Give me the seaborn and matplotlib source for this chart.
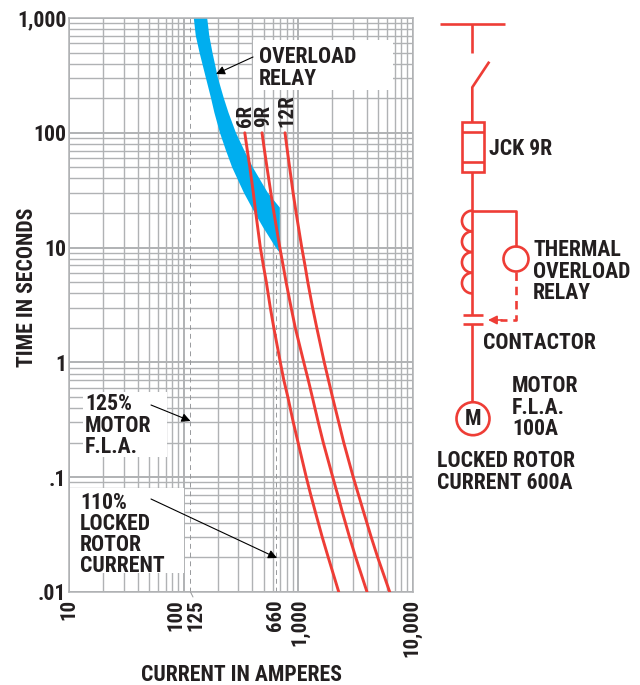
import matplotlib
matplotlib.use("Agg")
import matplotlib.pyplot as plt
import matplotlib.ticker as mticker
from matplotlib.patches import Arc, Circle, Rectangle
import pandas as pd
import seaborn as sns

# time axis shared by the three fuse curves (seconds)
fuse_times = [100, 70, 50, 30, 20, 10, 7, 5, 3, 2, 1, .7, .5, .3, .2, .1, .07, .05, .03, .02, .01]
fuse_6r = [343, 361, 380, 407, 428, 469, 498, 529, 573, 615, 701, 752, 815, 910, 1002,
           1181, 1293, 1416, 1629, 1838, 2270]
fuse_9r = [485, 510, 536, 579, 617, 694, 741, 787, 871, 947, 1124, 1230, 1333, 1504, 1663,
           2012, 2225, 2435, 2820, 3194, 4008]
fuse_12r = [770, 807, 845, 906, 964, 1079, 1151, 1218, 1341, 1459, 1696, 1846, 2000, 2270, 2510,
            3038, 3379, 3736, 4361, 4970, 6325]

# overload relay band, lower and upper edge
relay_low_t = [1000, 700, 500, 300, 200, 150, 100, 70, 50, 30, 20, 15, 10, 9]
relay_low_a = [123, 128, 138, 157, 174, 186, 208, 235, 266, 337, 420, 496, 640, 694]
relay_high_t = [1000, 700, 500, 300, 200, 150, 100, 70, 50, 30, 22.3]
relay_high_a = [161, 168, 179, 200, 225, 247, 287, 340, 403, 545, 694]

x_ticks = [10, 100, 115, 640, 1000, 10000]
x_labels = ["10", "100", "125", "660", "1,000", "10,000"]
x_nudge = [0, -8, 5, 0, 2, -1]
y_ticks = [1000, 100, 10, 1, .1, .01]
y_labels = ["1,000", "100", "10", "1", ".1", ".01"]

RED = "#ee3d36"
BLUE = "#00aeef"
GRID = "#b0b2b4"
DASH = "#97999c"
INK = "#231f20"
W, H = 640, 685

sns.set_style("white")
plt.rcParams["font.family"] = ["Roboto Condensed", "Archivo Narrow", "Barlow Condensed",
                               "Saira Condensed", "Liberation Sans"]
plt.rcParams["font.weight"] = "bold"

fig = plt.figure(figsize=(W / 100, H / 100), dpi=100)
ax = fig.add_axes([69 / W, 1 - 592 / H, 343.5 / W, 574 / H])
ax.set_xscale("log")
ax.set_yscale("log")

rows = []
for name, amps in [("6R", fuse_6r), ("9R", fuse_9r), ("12R", fuse_12r)]:
    rows.append(pd.DataFrame({"amps": amps, "time": fuse_times, "fuse": name}))
fuses = pd.concat(rows)

ax.fill(relay_low_a + relay_high_a[::-1], relay_low_t + relay_high_t[::-1],
        color=BLUE, lw=0, zorder=2)
sns.lineplot(data=fuses, x="amps", y="time", hue="fuse", sort=False, estimator=None,
             palette=[RED, RED, RED], linewidth=2.1, legend=False, ax=ax, zorder=3)

ax.set_xlim(10, 10000)
ax.set_ylim(.01, 1000)
ax.set_xlabel("")
ax.set_ylabel("")

ax.xaxis.set_major_locator(mticker.LogLocator(base=10, numticks=10))
ax.xaxis.set_minor_locator(mticker.LogLocator(base=10, subs=range(2, 10), numticks=10))
ax.yaxis.set_major_locator(mticker.FixedLocator(y_ticks))
ax.yaxis.set_minor_locator(mticker.LogLocator(base=10, subs=range(2, 10), numticks=10))
ax.yaxis.set_major_formatter(mticker.FixedFormatter(y_labels))
ax.xaxis.set_major_formatter(mticker.NullFormatter())
ax.xaxis.set_minor_formatter(mticker.NullFormatter())
ax.yaxis.set_minor_formatter(mticker.NullFormatter())
ax.grid(which="major", color=GRID, lw=1.4)
ax.grid(which="minor", color=GRID, lw=1.0)
ax.set_axisbelow(True)
ax.tick_params(which="both", length=0)
ax.tick_params(axis="y", which="major", labelsize=15.7, labelcolor=INK, pad=2)
for side in ax.spines.values():
    side.set_color(GRID)
    side.set_linewidth(1.1)

for val, lab, nudge in zip(x_ticks, x_labels, x_nudge):
    ax.annotate(lab, (val, 0), xycoords=("data", "axes fraction"),
                xytext=(nudge * 0.72, -5), textcoords="offset points", rotation=90,
                ha="center", va="top", fontsize=15, color=INK)

ax.axvline(115, color=DASH, lw=0.7, ls=(0, (5, 4)), zorder=1.5)
ax.plot([640, 640], [.01, 9], color=DASH, lw=0.7, ls=(0, (5, 4)), zorder=1.5)

# everything else goes on a full figure overlay in pixel coordinates
ov = fig.add_axes([0, 0, 1, 1])
ov.set_xlim(0, W)
ov.set_ylim(H, 0)
ov.axis("off")
ov.patch.set_alpha(0)

for x0, y0, x1, y1 in [(253, 40, 393, 90), (83, 392, 167, 457), (70, 488, 184, 573)]:
    ov.add_patch(Rectangle((x0, y0), x1 - x0, y1 - y0, color="white", lw=0))
ov.plot([190.5, 193], [592, 597], color=DASH, lw=0.7)


def label(x, y, lines, step=21.5, size=15.7):
    for i, line in enumerate(lines):
        ov.text(x, y + i * step, line, ha="left", va="center", fontsize=size, color=INK)


label(259, 57, ["OVERLOAD", "RELAY"])
label(85, 404, ["125%", "MOTOR", "F.L.A."])
label(80, 503, ["110%", "LOCKED", "ROTOR", "CURRENT"], step=21)
label(489, 149, ["JCK 9R"])
label(533, 250, ["THERMAL", "OVERLOAD", "RELAY"])
label(483, 343, ["CONTACTOR"])
label(512, 386, ["MOTOR", "F.L.A.", "100A"])
label(437, 461, ["LOCKED ROTOR", "CURRENT 600A"])
ov.text(473, 419, "M", ha="center", va="center", fontsize=15.7, color=INK)

for x, y, txt in [(245, 127, "6R"), (264, 127, "9R"), (287, 127, "12R")]:
    ov.text(x, y, txt, rotation=90, ha="center", va="bottom", fontsize=15, color=INK)

ov.text(27, 287, "TIME IN SECONDS", rotation=90, ha="center", va="center", fontsize=15.7, color=INK)
ov.text(241, 675, "CURRENT IN AMPERES", ha="center", va="center", fontsize=15.7, color=INK)

for start, end in [((253, 57), (216, 74)), ((151, 405), (190.5, 421)), ((151, 499), (277, 558))]:
    ov.annotate("", xy=end, xytext=start,
                arrowprops=dict(arrowstyle="-|>", color="black", lw=0.8, shrinkA=0, shrinkB=0,
                                mutation_scale=13))

# one line diagram
wire = dict(color=RED, lw=1.9, solid_capstyle="butt")
ov.plot([439.5, 505], [24, 24], **wire)
ov.plot([472.3, 472.3], [24, 53], **wire)
ov.plot([489.3, 472.3, 472.3], [61.7, 87.3, 122], **wire)
ov.add_patch(Rectangle((462.3, 122.3), 21.7, 49.4, fill=False, ec=RED, lw=1.9))
ov.plot([462.3, 484], [132.3, 132.3], **wire)
ov.plot([462.3, 484], [161.7, 161.7], **wire)
ov.plot([472.3, 472.3], [171.7, 315], **wire)
for k in range(4):
    ov.add_patch(Arc((472.3, 221 + k * 20.7), 20.7, 20.7, theta1=90, theta2=270, ec=RED, lw=1.9))
ov.plot([472.3, 516, 516], [210.7, 210.7, 246.7], **wire)
ov.add_patch(Circle((516, 259), 12.5, fill=False, ec=RED, lw=1.9))
ov.plot([516, 516, 500], [272, 320, 320], color=RED, lw=1.9, ls=(0, (3.2, 2.2)))
ov.annotate("", xy=(488, 320), xytext=(502, 320),
            arrowprops=dict(arrowstyle="-|>", color=RED, lw=1.2, shrinkA=0, shrinkB=0,
                            mutation_scale=13))
ov.plot([463, 483], [315.3, 315.3], **wire)
ov.plot([463, 483], [324, 324], **wire)
ov.plot([472.3, 472.3], [324, 402], **wire)
ov.add_patch(Circle((473, 418.7), 16.5, fill=False, ec=RED, lw=1.9))

fig.savefig("out.png", dpi=100)
